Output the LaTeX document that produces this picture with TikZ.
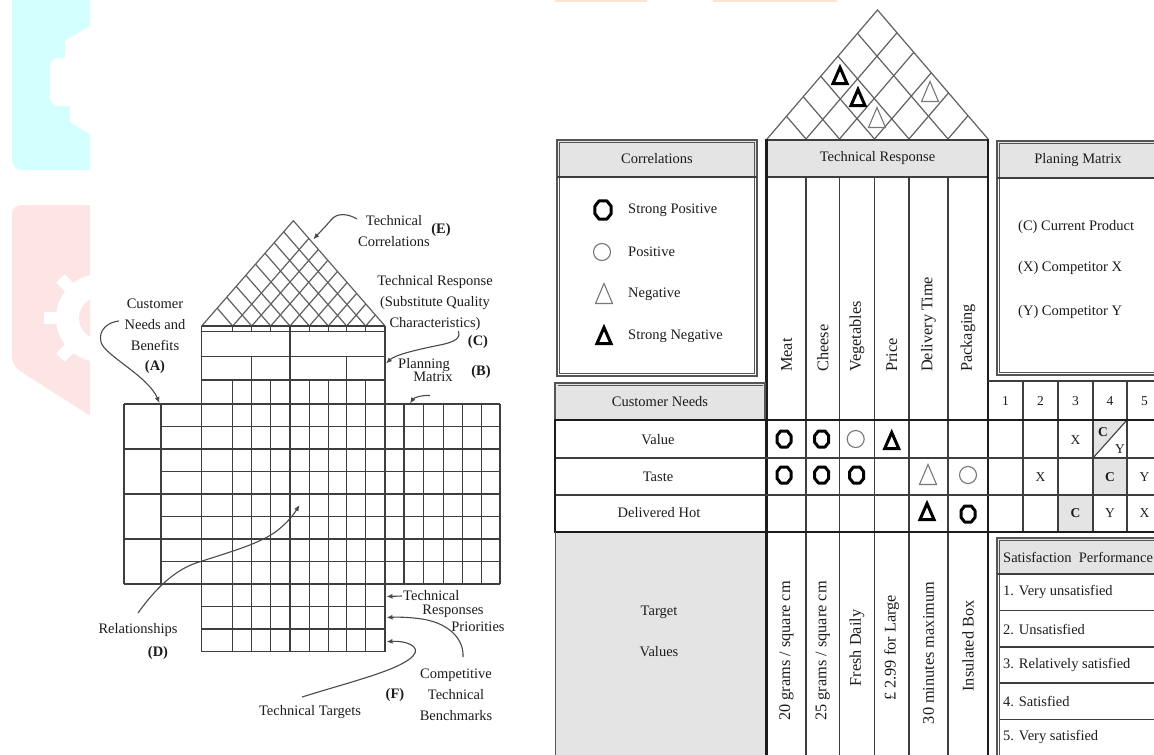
\documentclass[tikz,border=0pt]{standalone}
\usepackage{fontspec}
\setmainfont{Liberation Serif}
\usetikzlibrary{arrows.meta,shapes.geometric}
\definecolor{hdr}{HTML}{E4E4E4}
\definecolor{ink}{HTML}{1C1C1C}
\definecolor{wmcyan}{HTML}{D4FFFF}
\definecolor{wmpink}{HTML}{FDE5E5}
\definecolor{wmorange}{HTML}{FBE3D0}
\begin{document}
\begin{tikzpicture}[x=1pt,y=-1pt,
  txt/.style={font=\fontsize{14.5}{21}\selectfont, text=ink, inner sep=0pt, align=center},
  lbl/.style={txt, font=\fontsize{14.5}{21}\bfseries\selectfont},
  rtxt/.style={font=\fontsize{16.3}{18}\selectfont, text=ink, inner sep=0pt, rotate=90},
  ratemark/.style={font=\fontsize{13.5}{15}\selectfont, text=ink, inner sep=0pt},
  bratemark/.style={ratemark, font=\fontsize{13.5}{15}\bfseries\selectfont},
  gline/.style={draw=ink!85, line width=1.4pt},
  rline/.style={draw=ink!70, line width=1.2pt},
  leader/.style={draw=ink!80, line width=1.1pt, -{Latex[length=6pt,width=5pt]}},
  tline/.style={draw=ink!85, line width=1.1pt},
  heavy/.style={draw=ink, line width=2.6pt},
  boxline/.style={draw=ink!75, line width=1.1pt},
  strongpos/.style={draw=black, line width=3pt, line join=round},
  weakpos/.style={draw=ink!60, line width=1.1pt},
  strongneg/.style={draw=black, line width=3pt, line join=miter},
  weakneg/.style={draw=ink!60, line width=1.1pt},
  octa/.pic={\draw[pic actions] (-3.3,-8) -- (3.3,-8) -- (7,-3.4) -- (7,3.4) -- (3.3,8) -- (-3.3,8) -- (-7,3.4) -- (-7,-3.4) -- cycle;},
  tri/.pic={\draw[pic actions] (0,-8.5) -- (7,7.5) -- (-7,7.5) -- cycle;},
  bigtri/.pic={\draw[pic actions] (0,-10.5) -- (8.5,9.5) -- (-8.5,9.5) -- cycle;}
]
\useasboundingbox (0,0) rectangle (1154,755);
\clip (0,0) rectangle (1154,755);

% ---------- faint logo watermark on the left edge ----------
\begin{scope}
  \clip (0,0) rectangle (90,755);
  \fill[wmcyan, rounded corners=10pt] (12,-20) rectangle (120,170);
  \fill[white] (90,26) -- (65,41) -- (65,58) -- (90,58) -- cycle;
  \fill[white, rounded corners=9pt] (50,58) rectangle (130,106);
  \fill[white] (70,106) -- (70,122) -- (90,134) -- (90,106) -- cycle;
  \fill[wmpink, rounded corners=9pt] (12,205) -- (12,366) -- (100,422) -- (100,205) -- cycle;
  \fill[white] (100,318) circle (44);
  \foreach \a in {0,45,...,315}
    \fill[white, rotate around={\a:(100,318)}] (94,262) rectangle (106,280);
  \fill[wmpink] (100,318) circle (21);
\end{scope}
\fill[wmorange] (555,0) rectangle (647,1.8);
\fill[wmorange] (713,0) rectangle (837,1.8);

% ================= generic house of quality (left) =================
% roof
\draw[rline] (201.7,326) -- (293.35,220.7) -- (385,326);
\foreach \x in {232.7,251.7,270.7,290,309.3,328.3,346.7,365.7} {
  \draw[rline] (\x,326) -- ({(\x+385)/2},{326-(385-\x)*0.5745});
  \draw[rline] (\x,326) -- ({(\x+201.7)/2},{326-(\x-201.7)*0.5745});
}
% technical response block and relationship matrix
\foreach \x in {201.7,232.7,251.7,270.7,290,309.3,328.3,346.7,365.7,385} {
  \draw[gline] (\x,380) -- (\x,651.5);
  \draw[gline] (\x,326) -- (\x,331.7);
}
\draw[gline] (201.7,326) -- (201.7,380);
\draw[gline] (385,326) -- (385,380);
\foreach \y in {326,331.7,356.7,380} \draw[gline] (201.7,\y) -- (385,\y);
\draw[gline] (290,331.7) -- (290,356.7);
\foreach \x in {251.7,290,346.7} \draw[gline] (\x,356.7) -- (\x,380);
% customer needs and planning matrix rows
\foreach \y in {404,449,494,539,584} \draw[gline] (124,\y) -- (500,\y);
\foreach \y in {426.5,471.5,516.5,561.5} \draw[gline] (161,\y) -- (500,\y);
\foreach \x in {124,161,404,423.3,443.3,462.7,481.7,500} \draw[gline] (\x,404) -- (\x,584);
\foreach \y in {606.5,629,651.5} \draw[gline] (201.7,\y) -- (385,\y);

% labels
\node[txt] (tcorr) at (394,231) {Technical\\Correlations};
\node[lbl] (labE) at (441,230) {(E)};
\node[txt] (tresp) at (435,303) {Technical Response\\(Substitute Quality\\Characteristics)};
\node[lbl] (labC) at (478,342) {(C)};
\node[txt] (cneeds) at (155,325) {Customer\\Needs and\\Benefits};
\node[lbl] (labA) at (155,367) {(A)};
\node[txt] (plan1) at (424,365) {Planning};
\node[txt] (plan2) at (433,377) {Matrix};
\node[lbl] (labB) at (481,372) {(B)};
\node[txt] (rel) at (138,630) {Relationships};
\node[lbl] (labD) at (158,653) {(D)};
\node[txt, anchor=west] (prio1) at (403,596) {Technical};
\node[txt] (prio2) at (453,611) {Responses};
\node[txt] (prio3) at (478,627) {Priorities};
\node[txt] (bench) at (456,695) {Competitive\\Technical\\Benchmarks};
\node[lbl] (labF) at (395,695) {(F)};
\node[txt] (ttarg) at (310,712) {Technical Targets};

% leaders
\coordinate (eS) at (357,219);   \coordinate (eT) at (313.3,239.3);
\coordinate (cS) at (458.3,331); \coordinate (cT) at (386,363.5);
\coordinate (aS) at (119,321);   \coordinate (aT) at (159.5,403);
\coordinate (bS) at (430,395.5); \coordinate (bT) at (410,403.5);
\coordinate (dS) at (138,613);   \coordinate (dT) at (299.5,505);
\coordinate (pS) at (402,596);   \coordinate (pT) at (386.5,596.5);
\coordinate (fS) at (463,657);   \coordinate (fT) at (386.5,617.5);
\coordinate (tS) at (302,697);   \coordinate (tT) at (386.5,641.7);
\draw[leader] (eS) .. controls (349,214) and (337,212) .. (331,220) .. controls (326,226) and (320,232) .. (eT);
\draw[leader] (cS) .. controls (461,338) and (455,342) .. (440,345) .. controls (415,350) and (395,355) .. (cT);
\draw[leader] (aS) .. controls (108,322) and (98,330) .. (101,342) .. controls (104,355) and (148,376) .. (aT);
\draw[leader] (bS) .. controls (422,395) and (414,397.5) .. (bT);
\draw[leader] (dS) .. controls (158,585) and (178,568) .. (200,561.7) .. controls (230,552) and (262,543) .. (278,530) .. controls (288,522) and (294,514) .. (dT);
\draw[leader] (pS) -- (pT);
\draw[leader] (fS) .. controls (464,638) and (448,624) .. (425,619.5) .. controls (410,617) and (398,617) .. (fT);
\draw[leader] (tS) .. controls (350,682) and (400,670) .. (413,656) .. controls (422,646) and (405,640.5) .. (tT);

% ================= pizza house of quality (right) =================
% fills
\fill[hdr] (557,140) rectangle (757,177);
\fill[hdr] (767,140) rectangle (988,177);
\fill[hdr] (997,141) rectangle (1175,178);
\fill[hdr] (555,383) rectangle (765,420);
\fill[hdr] (555,532) rectangle (765,760);
\fill[hdr] (997,538) rectangle (1175,574);
\fill[hdr] (1093,420) -- (1127,420) -- (1093,458) -- cycle;
\fill[hdr] (1093,458) rectangle (1127,495);
\fill[hdr] (1058,495) rectangle (1093,532);

% roof
\draw[rline] (767,139) -- (877.5,10) -- (988,139);
\foreach \x in {806,839.5,874.5,909,948} {
  \draw[rline] (\x,139) -- ({(\x+988)/2},{139-(988-\x)*0.5837});
  \draw[rline] (\x,139) -- ({(\x+767)/2},{139-(\x-767)*0.5837});
}

% technical response columns
\draw[tline] (767,140) -- (988,140);
\draw[tline, line width=1.6pt] (767,177) -- (988,177);
\foreach \x in {806,839.5,874.5,909,948} \draw[tline] (\x,177) -- (\x,760);
\draw[heavy] (766.5,139) -- (766.5,760);
\draw[heavy] (988,139) -- (988,760);

% legend box (double rule)
\draw[boxline] (557,140) rectangle (757,376);
\draw[boxline, line width=0.6pt] (559.5,142.5) rectangle (754.5,373.5);
\draw[tline, line width=1.6pt] (557,177) -- (757,177);
% planning matrix box (double rule)
\draw[boxline] (997,141) rectangle (1175,375);
\draw[boxline, line width=0.6pt] (999.5,143.5) rectangle (1172.5,372.5);
\draw[tline, line width=1.6pt] (997,178) -- (1175,178);
% customer needs header
\draw[boxline] (555,383) rectangle (765,420);
\draw[boxline, line width=0.6pt] (557.5,385.5) -- (762.5,385.5);

% rating row and needs rows
\draw[tline] (988,381) -- (1175,381);
\foreach \x in {1023,1058,1093,1127} \draw[tline] (\x,381) -- (\x,532);
\draw[tline] (555,458) -- (1175,458);
\draw[tline] (555,495) -- (1175,495);
\draw[tline] (1093,458) -- (1127,420);
\draw[heavy] (555,420) -- (1175,420);
\draw[heavy] (555,532) -- (1175,532);
\draw[heavy] (555,419) -- (555,533);
% target values box
\draw[boxline, line width=1.6pt] (555.5,532) -- (555.5,760);
% satisfaction box (double rule)
\draw[boxline] (997,538) rectangle (1175,770);
\draw[boxline, line width=0.6pt] (999.5,540.5) rectangle (1172.5,767.5);
\draw[tline, line width=1.6pt] (997,574) -- (1175,574);
\foreach \y in {610.5,647,683,719.5} \draw[tline] (999.5,\y) -- (1175,\y);

% roof correlation marks
\pic[strongneg] at (840,76) {tri};
\pic[strongneg] at (858,98) {tri};
\pic[weakneg] at (877,118) {bigtri};
\pic[weakneg] at (930,92) {bigtri};

% legend
\node[txt] (corrh) at (657,159) {Correlations};
\pic[strongpos, scale=1.15] at (603,210) {octa};
\node[circle, weakpos, minimum size=17pt, inner sep=0pt] (legpos) at (602,252) {};
\pic[weakneg] at (604,294) {bigtri};
\pic[strongneg] at (604,336) {tri};
\node[txt, anchor=west] (leg1) at (628,210) {Strong Positive};
\node[txt, anchor=west] (leg2) at (628,252) {Positive};
\node[txt, anchor=west] (leg3) at (628,294) {Negative};
\node[txt, anchor=west] (leg4) at (628,336) {Strong Negative};

% technical response
\node[txt] (trh) at (877.5,158) {Technical Response};
\node[rtxt, anchor=west] (c1) at (786.5,372) {Meat};
\node[rtxt, anchor=west] (c2) at (822.7,372) {Cheese};
\node[rtxt, anchor=west] (c3) at (857,372) {Vegetables};
\node[rtxt, anchor=west] (c4) at (891.7,372) {Price};
\node[rtxt, anchor=west] (c5) at (928.5,372) {Delivery Time};
\node[rtxt, anchor=west] (c6) at (968,372) {Packaging};

% planning matrix
\node[txt] (pmh) at (1078,160) {Planing Matrix};
\node[txt, anchor=west] (pm1) at (1018,227) {(C) Current Product};
\node[txt, anchor=west] (pm2) at (1018,268) {(X) Competitor X};
\node[txt, anchor=west] (pm3) at (1018,312) {(Y) Competitor Y};
\foreach \n/\x in {1/1005.5,2/1040.5,3/1075.5,4/1110,5/1144.5}
  \node[ratemark] (r\n) at (\x,401) {\n};

% customer needs
\node[txt] (cnh) at (660,402) {Customer Needs};
\node[txt] (n1) at (658,440) {Value};
\node[txt] (n2) at (658,477) {Taste};
\node[txt] (n3) at (659,513) {Delivered Hot};

% relationships
\pic[strongpos] at (784,439) {octa};
\pic[strongpos] at (821.7,439) {octa};
\node[circle, weakpos, minimum size=17pt, inner sep=0pt] (v3) at (855.7,439) {};
\pic[strongneg] at (891.7,441) {tri};
\pic[strongpos] at (784,475) {octa};
\pic[strongpos] at (821.7,475) {octa};
\pic[strongpos] at (856.7,475) {octa};
\pic[weakneg] at (928,475) {bigtri};
\node[circle, weakpos, minimum size=17pt, inner sep=0pt] (t6) at (968,475) {};
\pic[strongneg] at (927,512) {tri};
\pic[strongpos] at (968,514) {octa};

% competitive ratings
\node[ratemark] (vx) at (1075.5,440) {X};
\node[bratemark] (vc) at (1103,432) {C};
\node[ratemark] (vy) at (1120,449) {Y};
\node[ratemark] (tx) at (1040.5,477) {X};
\node[bratemark] (tc) at (1110,477) {C};
\node[ratemark] (ty) at (1144.5,477) {Y};
\node[bratemark] (dc) at (1075.5,513) {C};
\node[ratemark] (dy) at (1110,513) {Y};
\node[ratemark] (dx) at (1144.5,513) {X};

% target values
\node[txt] (tv1) at (659,612) {Target};
\node[txt] (tv2) at (659,652) {Values};
\node[rtxt] (g1) at (786.5,651) {20 grams / square cm};
\node[rtxt] (g2) at (822.7,651) {25 grams / square cm};
\node[rtxt] (g3) at (857,648) {Fresh Daily};
\node[rtxt] (g4) at (891.7,648) {£ 2.99 for Large};
\node[rtxt] (g5) at (928.5,653) {30 minutes maximum};
\node[rtxt] (g6) at (968,646) {Insulated Box};

% satisfaction scale
\node[txt, anchor=west] (sh) at (1003,557) {Satisfaction\ \ Performance};
\node[txt, anchor=west] (s1) at (1003,592) {1. Very unsatisfied};
\node[txt, anchor=west] (s2) at (1003,629) {2. Unsatisfied};
\node[txt, anchor=west] (s3) at (1003,665) {3. Relatively satisfied};
\node[txt, anchor=west] (s4) at (1003,701) {4. Satisfied};
\node[txt, anchor=west] (s5) at (1003,737) {5. Very satisfied};
\end{tikzpicture}
\end{document}
